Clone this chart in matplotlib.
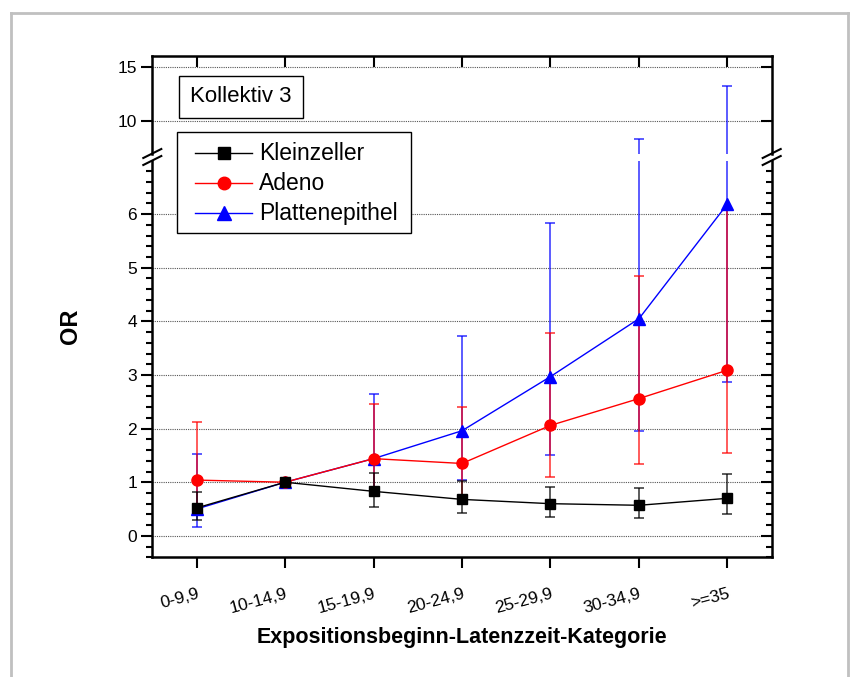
import numpy as np
import matplotlib
matplotlib.use("Agg")
import matplotlib.pyplot as plt
from matplotlib.lines import Line2D
from matplotlib.patches import Rectangle

plt.rcParams['font.family'] = ['Liberation Sans', 'DejaVu Sans']

# Latency categories (years since start of exposure)
categories = ["0-9,9", "10-14,9", "15-19,9", "20-24,9", "25-29,9", "30-34,9", ">=35"]

# Odds ratios with 95% confidence limits per histological type
klein_or = [0.52, 1.00, 0.83, 0.68, 0.60, 0.57, 0.70]
klein_lo = [0.30, 1.00, 0.54, 0.43, 0.36, 0.34, 0.40]
klein_hi = [0.82, 1.00, 1.18, 1.03, 0.91, 0.90, 1.16]

adeno_or = [1.04, 1.00, 1.44, 1.35, 2.06, 2.56, 3.09]
adeno_lo = [0.48, 1.00, 0.81, 0.74, 1.10, 1.34, 1.55]
adeno_hi = [2.12, 1.00, 2.46, 2.41, 3.78, 4.84, 6.07]

platte_or = [0.50, 1.00, 1.44, 1.96, 2.97, 4.05, 6.19]
platte_lo = [0.17, 1.00, 0.77, 1.04, 1.50, 1.96, 2.87]
platte_hi = [1.53, 1.00, 2.64, 3.72, 5.84, 8.30, 13.23]

series_names = ["Kleinzeller", "Adeno", "Plattenepithel"]
series_colors = ["#000000", "#ff0000", "#0000ff"]
series_markers = ["s", "o", "^"]
series_msize = [7, 8, 9]
series_data = [(klein_or, klein_lo, klein_hi),
               (adeno_or, adeno_lo, adeno_hi),
               (platte_or, platte_lo, platte_hi)]

W, H = 852, 677
fig = plt.figure(figsize=(W / 100, H / 100), dpi=100)

def fx(px):
    return px / W

def fy(py):
    return 1 - py / H

left_px, right_px = 152.3, 771.7
low_top, low_bot = 160.5, 557.3
up_top, up_bot = 56.0, 153.5

ax_lo = fig.add_axes([fx(left_px), fy(low_bot), fx(right_px - left_px), (low_bot - low_top) / H])
ax_up = fig.add_axes([fx(left_px), fy(up_bot), fx(right_px - left_px), (up_bot - up_top) / H])

x = np.arange(len(categories))

# draw Plattenepithel first so that Adeno and Kleinzeller sit on top
order = [2, 1, 0]
for ax in (ax_lo, ax_up):
    for z, k in enumerate(order):
        orv, lo, hi = (np.array(a) for a in series_data[k])
        col = series_colors[k]
        yerr = np.vstack([orv - lo, hi - orv])
        ax.errorbar(x, orv, yerr=yerr, fmt='none', ecolor=col, elinewidth=1.2,
                    capsize=3.8, capthick=1.2, alpha=0.75, zorder=2 + z)
        ax.plot(x, orv, color=col, lw=1.0, marker=series_markers[k],
                ms=series_msize[k], mec=col, mfc=col, zorder=5 + z)
    ax.set_xlim(-0.5, 6.5)
    for s in ax.spines.values():
        s.set_linewidth(1.8)

ax_lo.set_ylim(-0.4, 7.0)
ax_up.set_ylim(7.0, 16.0)

grid_style = dict(linestyle=(0, (1, 1)), color='#555555', lw=0.8)

# Lower panel
ax_lo.spines['top'].set_visible(False)
ax_lo.set_yticks(range(0, 7))
ax_lo.set_yticks(np.arange(-0.4, 7.0, 0.2), minor=True)
ax_lo.yaxis.grid(True, which='major', **grid_style)
ax_lo.set_axisbelow(True)
ax_lo.tick_params(axis='y', which='major', direction='out', length=8, width=1.5,
                  labelsize=12.5, right=True, pad=3)
ax_lo.tick_params(axis='y', which='minor', direction='out', length=4.5, width=1.5, right=True)
for t in ax_lo.yaxis.get_major_ticks() + ax_lo.yaxis.get_minor_ticks():
    t.tick2line.set_marker(matplotlib.lines.TICKLEFT)
ax_lo.set_xticks(x)
ax_lo.set_xticklabels(categories, rotation=15, ha='right', rotation_mode='anchor')
ax_lo.tick_params(axis='x', direction='out', length=8, width=1.5, labelsize=12.5, pad=13)

# Upper panel
ax_up.spines['bottom'].set_visible(False)
ax_up.set_yticks([10, 15])
ax_up.yaxis.grid(True, which='major', **grid_style)
ax_up.set_axisbelow(True)
ax_up.tick_params(axis='y', direction='out', length=8, width=1.5, labelsize=12.5, right=True, pad=3)
for t in ax_up.yaxis.get_major_ticks():
    t.tick2line.set_marker(matplotlib.lines.TICKLEFT)
ax_up.set_xticks(x)
ax_up.tick_params(axis='x', bottom=False, labelbottom=False, top=True, direction='in',
                  length=8, width=1.5)

# Axis break marks on both sides
for xp in (left_px, right_px):
    for yp in (up_bot, low_top):
        fig.add_artist(Line2D([fx(xp - 9), fx(xp + 9)], [fy(yp + 4.5), fy(yp - 4.5)],
                              color='black', lw=1.5, transform=fig.transFigure))

# Axis titles
fig.text(fx(70), fy(326), "OR", rotation=90, ha='center', va='center',
         fontsize=17, fontweight='bold')
fig.text(fx(462), fy(638), "Expositionsbeginn-Latenzzeit-Kategorie", ha='center',
         va='center', fontsize=15.5, fontweight='bold')

# Panel label box
fig.add_artist(Rectangle((fx(179), fy(118)), fx(124), 42 / H, transform=fig.transFigure,
                         fc='white', ec='black', lw=1.0, zorder=10))
fig.text(fx(241), fy(97), "Kollektiv 3", ha='center', va='center', fontsize=16, zorder=11)

# Legend box drawn by hand
fig.add_artist(Rectangle((fx(177), fy(233)), fx(234), 101 / H, transform=fig.transFigure,
                         fc='white', ec='black', lw=1.0, zorder=10))
entry_y = [153.3, 183.3, 213.3]
for k, yp in enumerate(entry_y):
    col = series_colors[k]
    fig.add_artist(Line2D([fx(195), fx(252)], [fy(yp), fy(yp)], color=col, lw=1.0,
                          transform=fig.transFigure, zorder=11))
    fig.add_artist(Line2D([fx(223.5)], [fy(yp)], color=col, marker=series_markers[k],
                          ms=series_msize[k] + 1, mec=col, mfc=col, lw=0,
                          transform=fig.transFigure, zorder=12))
    fig.text(fx(259), fy(yp), series_names[k], ha='left', va='center', fontsize=16.5,
             zorder=12)

# Light outer frame
frame = dict(color='#c0c0c0', lw=2, transform=fig.transFigure)
fig.add_artist(Line2D([fx(11), fx(11)], [fy(13), 0], **frame))
fig.add_artist(Line2D([fx(11), fx(848)], [fy(13), fy(13)], **frame))
fig.add_artist(Line2D([fx(848), fx(848)], [fy(13), 0], **frame))

fig.savefig("out.png", dpi=100)
